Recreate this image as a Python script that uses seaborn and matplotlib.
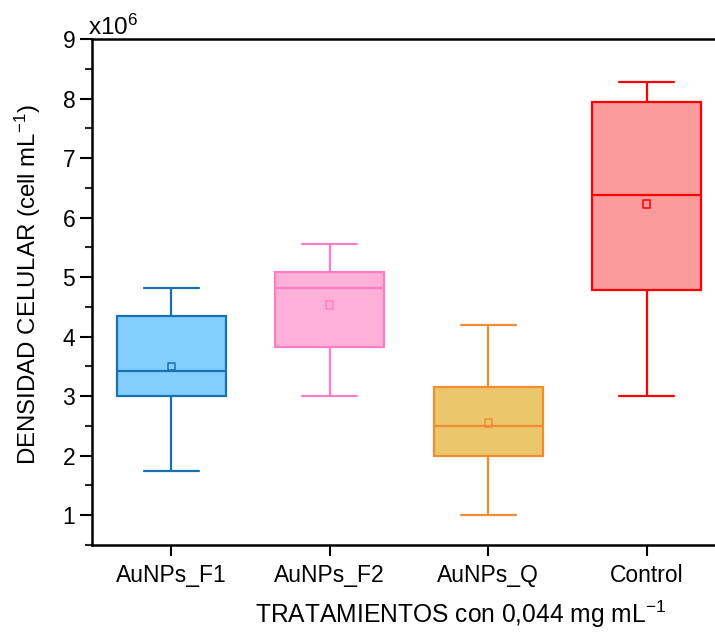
import matplotlib
matplotlib.use("Agg")
import matplotlib.pyplot as plt
import seaborn as sns
import pandas as pd
from matplotlib.ticker import MultipleLocator

categories = ["AuNPs_F1", "AuNPs_F2", "AuNPs_Q", "Control"]
# five-number summaries (x10^6): min, q1, median, q3, max
mins = [1.74, 3.00, 1.00, 3.00]
q1s = [3.00, 3.83, 1.99, 4.78]
medians = [3.43, 4.82, 2.50, 6.38]
q3s = [4.35, 5.09, 3.15, 7.95]
maxs = [4.82, 5.55, 4.19, 8.28]
means = [3.50, 4.53, 2.55, 6.23]

face_colors = ["#82CFFD", "#FFB0D9", "#EBC66B", "#FA9A9A"]
edge_colors = ["#1A6FAE", "#FF7EC3", "#F28C32", "#FF0000"]

rows = []
for c, a, b, m, d, e in zip(categories, mins, q1s, medians, q3s, maxs):
    for v in (a, b, m, d, e):
        rows.append({"cat": c, "val": v})
df = pd.DataFrame(rows)
mdf = pd.DataFrame({"cat": categories, "val": means})

sns.set_theme(style="white")
plt.rcParams["font.family"] = ["Liberation Sans", "DejaVu Sans"]
plt.rcParams["mathtext.fontset"] = "custom"
plt.rcParams["mathtext.rm"] = "Liberation Sans"
plt.rcParams["mathtext.it"] = "Liberation Sans"
plt.rcParams["text.color"] = "black"
plt.rcParams["axes.labelcolor"] = "black"

fig = plt.figure(figsize=(7.15, 6.38), dpi=100)
ax = fig.add_axes([92 / 715, 93 / 638, (726 - 92) / 715, (545 - 39) / 638])

sns.boxplot(data=df, x="cat", y="val", order=categories, whis=(0, 100),
            width=0.69, linewidth=1.6, ax=ax, showfliers=False)

for i, patch in enumerate(ax.patches):
    patch.set_facecolor(face_colors[i])
    patch.set_edgecolor(edge_colors[i])
    patch.set_linewidth(1.6)
lines = ax.lines
per = len(lines) // len(categories)
for i in range(len(categories)):
    for ln in lines[i * per:(i + 1) * per]:
        ln.set_color(edge_colors[i])
        ln.set_linewidth(1.6)

for i, c in enumerate(categories):
    sub = mdf[mdf["cat"] == c]
    sns.scatterplot(data=sub, x="cat", y="val", marker="s", s=28,
                    facecolor="none", edgecolor=edge_colors[i], linewidth=1.1,
                    ax=ax, zorder=5, legend=False)

ax.set_xlim(-0.5, 3.5)
ax.set_ylim(0.5, 9)
ax.yaxis.set_minor_locator(MultipleLocator(0.5))
ax.set_yticks(range(1, 10))
ax.tick_params(axis="y", which="major", direction="out", length=9, width=1.5,
               left=True, labelsize=16.5, colors="black", pad=3)
ax.tick_params(axis="y", which="minor", direction="out", length=5, width=1.5, left=True)
ax.tick_params(axis="x", direction="out", length=8, width=1.5, bottom=True,
               labelsize=16.5, colors="black", pad=6)
for s in ["left", "bottom", "top"]:
    ax.spines[s].set_color("black")
    ax.spines[s].set_linewidth(1.8)
ax.spines["right"].set_visible(False)

ax.set_xlabel("TRATAMIENTOS con 0,044 mg mL$^{\\mathregular{-1}}$", fontsize=17.7,
              color="black")
ax.set_ylabel("DENSIDAD CELULAR (cell mL$^{\\mathregular{-1}}$)", fontsize=17.3,
              color="black")
ax.xaxis.set_label_coords((461 - 92) / (726 - 92), -(614 - 545) / (545 - 39))
ax.yaxis.set_label_coords(-(92 - 28) / (726 - 92), 0.5 + (292 - 285) / (545 - 39))
ax.xaxis.label.set_va("center")
ax.yaxis.label.set_va("center")

fig.text(88 / 715, 1 - 35 / 638, "x10$^{\\mathregular{6}}$", fontsize=17.5,
         ha="left", va="baseline", color="black")

fig.savefig("out.png", dpi=100)
